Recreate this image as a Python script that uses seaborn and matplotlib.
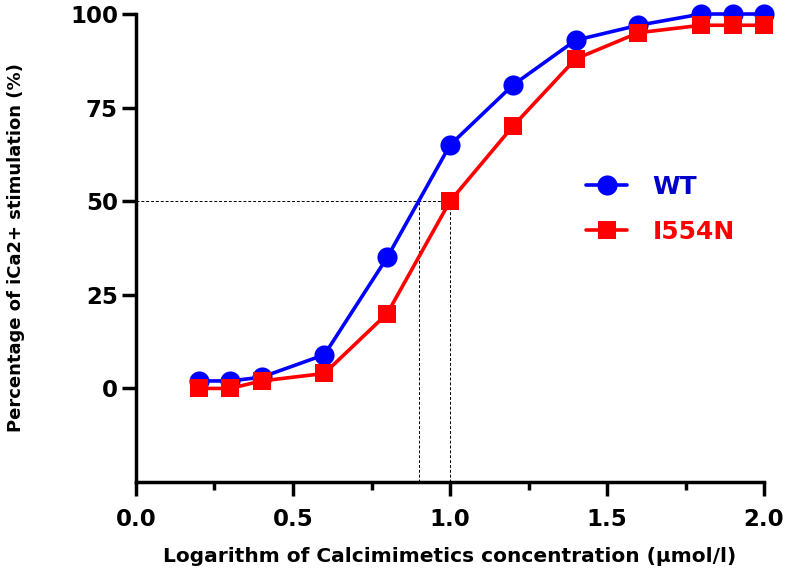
import matplotlib
matplotlib.use("Agg")
import matplotlib.pyplot as plt
import seaborn as sns
import pandas as pd
from matplotlib.lines import Line2D

log_conc = [0.2, 0.3, 0.4, 0.6, 0.8, 1.0, 1.2, 1.4, 1.6, 1.8, 1.9, 2.0]
wt_values = [2, 2, 3, 9, 35, 65, 81, 93, 97, 100, 100, 100]
i554n_values = [0, 0, 2, 4, 20, 50, 70, 88, 95, 97, 97, 97]
series_names = ["WT", "I554N"]
x_ticks = [0.0, 0.5, 1.0, 1.5, 2.0]
x_minor_ticks = [0.25, 0.75, 1.25, 1.75]
y_ticks = [0, 25, 50, 75, 100]
ec50_wt = 0.9
ec50_mut = 1.0
half_max = 50

df = pd.DataFrame({
    "x": log_conc * 2,
    "y": wt_values + i554n_values,
    "series": [series_names[0]] * len(log_conc) + [series_names[1]] * len(log_conc),
})

sns.set_theme(style="ticks")
plt.rcParams["font.family"] = ["DejaVu Sans"]
plt.rcParams["font.weight"] = "bold"
plt.rcParams["text.color"] = "black"
plt.rcParams["axes.labelcolor"] = "black"
plt.rcParams["xtick.color"] = "black"
plt.rcParams["ytick.color"] = "black"
plt.rcParams["xtick.labelcolor"] = "black"
plt.rcParams["ytick.labelcolor"] = "black"

fig = plt.figure(figsize=(7.87, 5.72), dpi=100)
ax = fig.add_axes([0.1728, 0.1573, 0.7980, 0.8182])

colors = {"WT": "#0000FF", "I554N": "#FF0000"}
sns.lineplot(data=df, x="x", y="y", hue="series", style="series",
             markers={"WT": "o", "I554N": "s"}, dashes=False,
             palette=colors, linewidth=2.6, markersize=14.5,
             markeredgewidth=0, ax=ax, legend=False, zorder=3)
for ln in ax.lines:
    ln.set_clip_on(False)
    if ln.get_marker() == "s":
        ln.set_markersize(13)

# reference dashed lines
dash = (0, (3, 2))
ax.plot([0, ec50_mut], [half_max, half_max], ls=dash, color="black", lw=0.7, zorder=1)
ax.plot([ec50_wt, ec50_wt], [-25, half_max], ls=dash, color="black", lw=0.7, zorder=1)
ax.plot([ec50_mut, ec50_mut], [-25, half_max], ls=dash, color="black", lw=0.7, zorder=1)

ax.set_xlim(0, 2.0)
ax.set_ylim(-25, 100)
ax.set_xticks(x_ticks)
ax.set_xticks(x_minor_ticks, minor=True)
ax.set_yticks(y_ticks)
ax.set_xticklabels([f"{t:.1f}" for t in x_ticks], fontsize=16.5, fontweight="bold", color="black")
ax.set_yticklabels([str(t) for t in y_ticks], fontsize=16.5, fontweight="bold", color="black")
ax.tick_params(axis="y", which="major", length=10, width=2.5, color="black", pad=3)
ax.tick_params(axis="x", which="major", length=10, width=2.5, color="black", pad=9)
ax.tick_params(axis="x", which="minor", length=6, width=2.5, color="black")
for s in ["left", "bottom"]:
    ax.spines[s].set_linewidth(2.5)
    ax.spines[s].set_color("black")
for s in ["top", "right"]:
    ax.spines[s].set_visible(False)

ax.set_xlabel("Logarithm of Calcimimetics concentration (\u03bcmol/l)",
              fontsize=14.5, fontweight="bold", labelpad=11, color="black")
ax.set_ylabel("Percentage of iCa2+ stimulation (%)",
              fontsize=13, fontweight="bold", labelpad=32, color="black")

handles = [
    Line2D([], [], color=colors["WT"], marker="o", lw=2.6, markersize=14.5, markeredgewidth=0),
    Line2D([], [], color=colors["I554N"], marker="s", lw=2.6, markersize=13, markeredgewidth=0),
]
leg = ax.legend(handles, series_names, loc="center left", bbox_to_anchor=(0.697, 0.583),
                frameon=False, prop={"size": 18, "weight": "bold"}, borderpad=0,
                handlelength=1.65, labelspacing=0.85, handletextpad=1.0)
leg.get_texts()[0].set_color("#0000CC")
leg.get_texts()[1].set_color("#FF0000")

fig.savefig("out.png", dpi=100)
